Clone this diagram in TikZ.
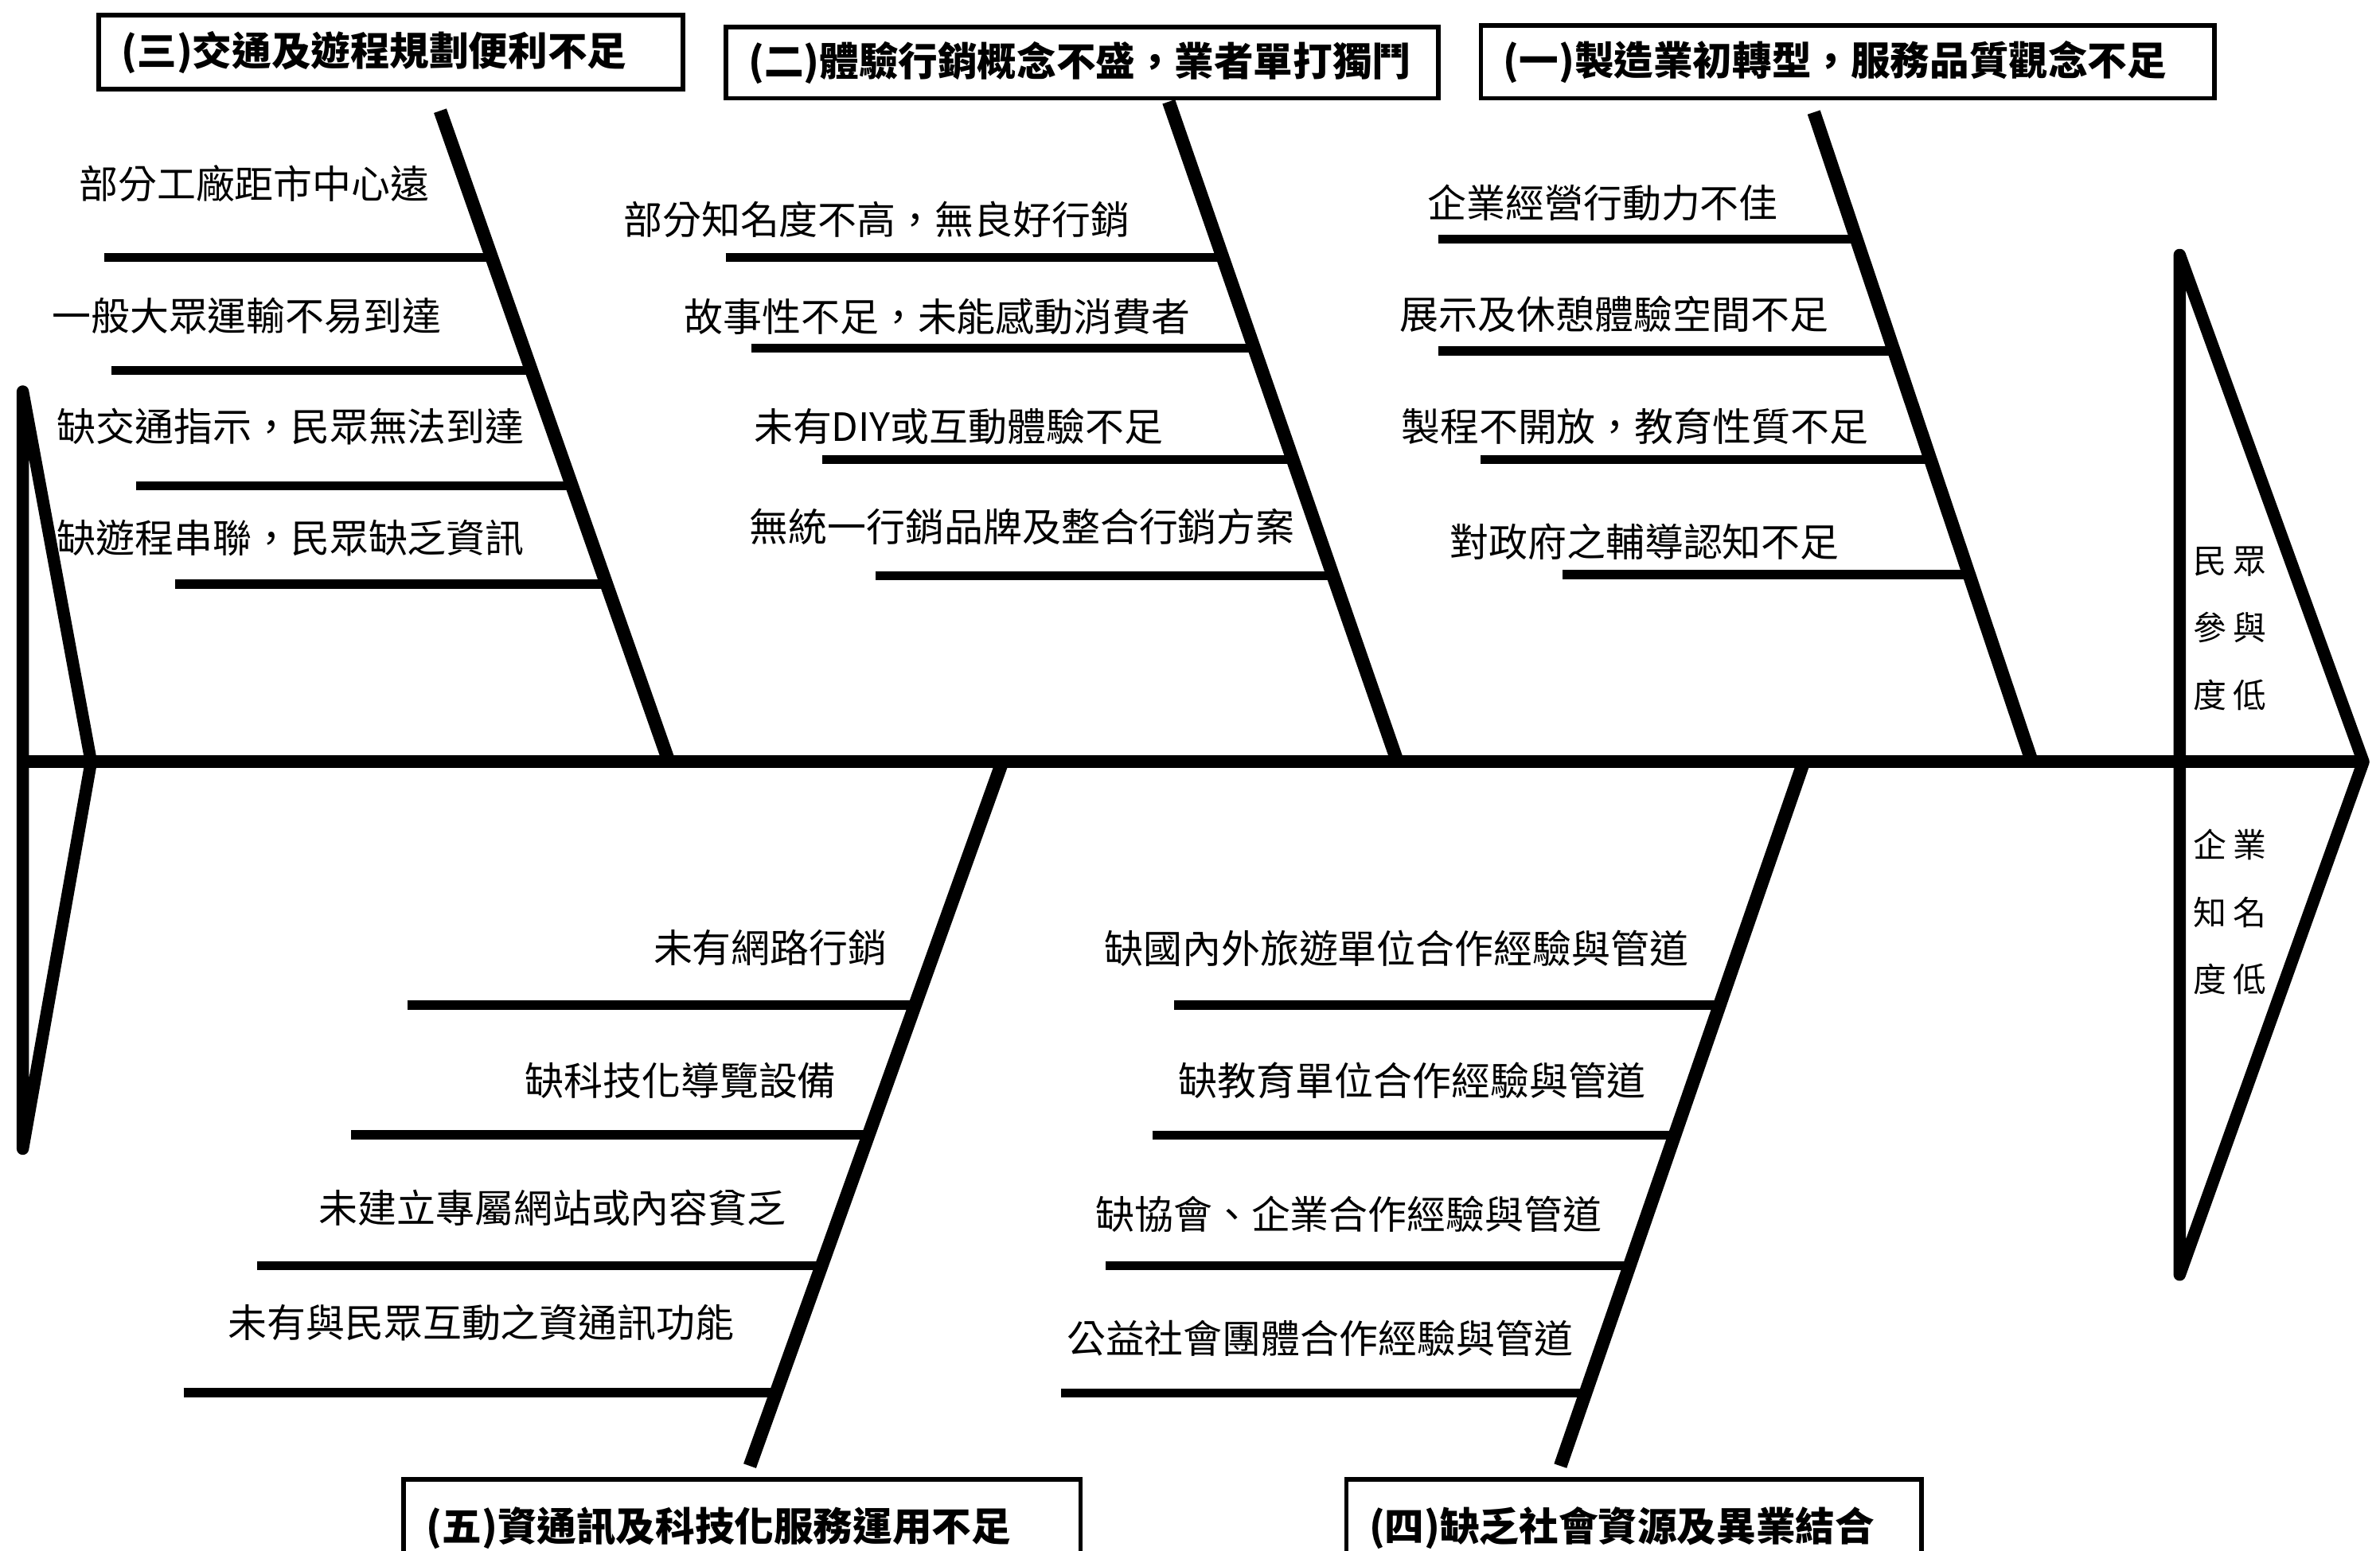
\documentclass[tikz,border=0pt]{standalone}
\usepackage{fontspec}
\setmainfont{Noto Sans CJK TC}
\usepackage{tikz}

\begin{document}
\begin{tikzpicture}[x=0.02cm,y=-0.02cm,
  bone/.style={line width=5pt},
  rib/.style={line width=3.4pt},
  fin/.style={line width=4.6pt, line cap=round, line join=round},
  cause/.style={font=\fontsize{14.6pt}{17pt}\selectfont, inner sep=0pt},
  titlebox/.style={draw, line width=1.7pt, inner xsep=0.3cm, inner ysep=0pt,
    align=left, font=\fontsize{14.8pt}{17pt}\selectfont\bfseries},
  effect/.style={align=center, font=\fontsize{12.5pt}{25.2pt}\selectfont, inner sep=0pt}]

\useasboundingbox (0,0) rectangle (1568,1021.6);

% Spine
\coordinate (tail) at (15,502);
\coordinate (head) at (1557,502);
\draw[line width=4.8pt] (tail) -- (head);

% Tail
\coordinate (tailtop) at (15,258);
\coordinate (tailtip) at (60,502);
\coordinate (tailbot) at (15,757);
\draw[fin] (tailtop) -- (tailtip) -- (tailbot) -- cycle;

% Head
\coordinate (headtop) at (1436,168);
\coordinate (headbot) at (1436,840);
\draw[fin] (headtop) -- (head) -- (headbot) -- cycle;
\node[effect] (eff1) at (1469,414) {民\hspace{.2em}眾\\參\hspace{.2em}與\\度\hspace{.2em}低};
\node[effect] (eff2) at (1469,601) {企\hspace{.2em}業\\知\hspace{.2em}名\\度\hspace{.2em}低};

% Category boxes
\node[titlebox, text width=7.10cm, minimum height=0.98cm] (cat3) at (257.5,34.4) {(三)交通及遊程規劃便利不足};
\node[titlebox, text width=8.79cm, minimum height=0.94cm] (cat2) at (712.8,41.3) {(二)體驗行銷概念不盛，業者單打獨鬥};
\node[titlebox, text width=9.07cm, minimum height=0.96cm] (cat1) at (1217.3,40.7) {(一)製造業初轉型，服務品質觀念不足};
\node[titlebox, text width=8.32cm, minimum height=1.28cm] (cat5) at (489,1007) {(五)資通訊及科技化服務運用不足};
\node[titlebox, text width=6.98cm, minimum height=1.28cm] (cat4) at (1076.5,1007) {(四)缺乏社會資源及異業結合};

% Bones
\coordinate (b3a) at (290,73);   \coordinate (b3b) at (440,500);
\coordinate (b2a) at (770,67);   \coordinate (b2b) at (920,500);
\coordinate (b1a) at (1195,74);  \coordinate (b1b) at (1338,500);
\coordinate (b5a) at (660,503);  \coordinate (b5b) at (494,966);
\coordinate (b4a) at (1188,503); \coordinate (b4b) at (1028,966);
\draw[bone] (b3a) -- (b3b);
\draw[bone] (b2a) -- (b2b);
\draw[bone] (b1a) -- (b1b);
\draw[bone] (b5a) -- (b5b);
\draw[bone] (b4a) -- (b4b);

% Ribs (三)
\draw[rib] (68.5,169.8) coordinate (r31) -- ++(255.5,0);
\draw[rib] (73.5,244) coordinate (r32) -- ++(276.6,0);
\draw[rib] (89.6,320) coordinate (r33) -- ++(287.2,0);
\draw[rib] (115.4,385) coordinate (r34) -- ++(284.2,0);
\node[cause] (t31) at (167.5,121) {部分工廠距市中心遠};
\node[cause] (t32) at (162.5,208) {一般大眾運輸不易到達};
\node[cause] (t33) at (191.5,281) {缺交通指示，民眾無法到達};
\node[cause] (t34) at (191.5,354.6) {缺遊程串聯，民眾缺乏資訊};

% Ribs (二)
\draw[rib] (478,169.8) coordinate (r21) -- ++(327.6,0);
\draw[rib] (494.8,229.5) coordinate (r22) -- ++(331.5,0);
\draw[rib] (541.6,303) coordinate (r23) -- ++(310.2,0);
\draw[rib] (576.7,379.5) coordinate (r24) -- ++(301.6,0);
\node[cause] (t21) at (577.5,144.9) {部分知名度不高，無良好行銷};
\node[cause] (t22) at (617.5,208.5) {故事性不足，未能感動消費者};
\node[cause] (t23) at (631.5,281) {未有DIY或互動體驗不足};
\node[cause] (t24) at (673.5,347) {無統一行銷品牌及整合行銷方案};

% Ribs (一)
\draw[rib] (947.6,157.6) coordinate (r11) -- ++(275.2,0);
\draw[rib] (947.6,231.3) coordinate (r12) -- ++(300,0);
\draw[rib] (975.5,303) coordinate (r13) -- ++(296.2,0);
\draw[rib] (1029.5,378.7) coordinate (r14) -- ++(267.7,0);
\node[cause] (t11) at (1056,133.5) {企業經營行動力不佳};
\node[cause] (t12) at (1063.5,207) {展示及休憩體驗空間不足};
\node[cause] (t13) at (1077,281) {製程不開放，教育性質不足};
\node[cause] (t14) at (1083.5,357) {對政府之輔導認知不足};

% Ribs (五)
\draw[rib] (268.3,662.3) coordinate (r51) -- ++(335.3,0);
\draw[rib] (231.3,747.9) coordinate (r52) -- ++(341.6,0);
\draw[rib] (169.6,834) coordinate (r53) -- ++(372.4,0);
\draw[rib] (120.9,917.8) coordinate (r54) -- ++(391,0);
\node[cause] (t51) at (507.5,624.5) {未有網路行銷};
\node[cause] (t52) at (448.5,712) {缺科技化導覽設備};
\node[cause] (t53) at (364,796) {未建立專屬網站或內容貧乏};
\node[cause] (t54) at (317,871.6) {未有與民眾互動之資通訊功能};

% Ribs (四)
\draw[rib] (773.6,662.3) coordinate (r41) -- ++(359.7,0);
\draw[rib] (759.2,748) coordinate (r42) -- ++(344.3,0);
\draw[rib] (728.3,834) coordinate (r43) -- ++(345.3,0);
\draw[rib] (699,918) coordinate (r44) -- ++(345.4,0);
\node[cause] (t41) at (920,625) {缺國內外旅遊單位合作經驗與管道};
\node[cause] (t42) at (930.5,712) {缺教育單位合作經驗與管道};
\node[cause] (t43) at (888.5,800) {缺協會、企業合作經驗與管道};
\node[cause] (t44) at (869.5,882) {公益社會團體合作經驗與管道};

\end{tikzpicture}
\end{document}
